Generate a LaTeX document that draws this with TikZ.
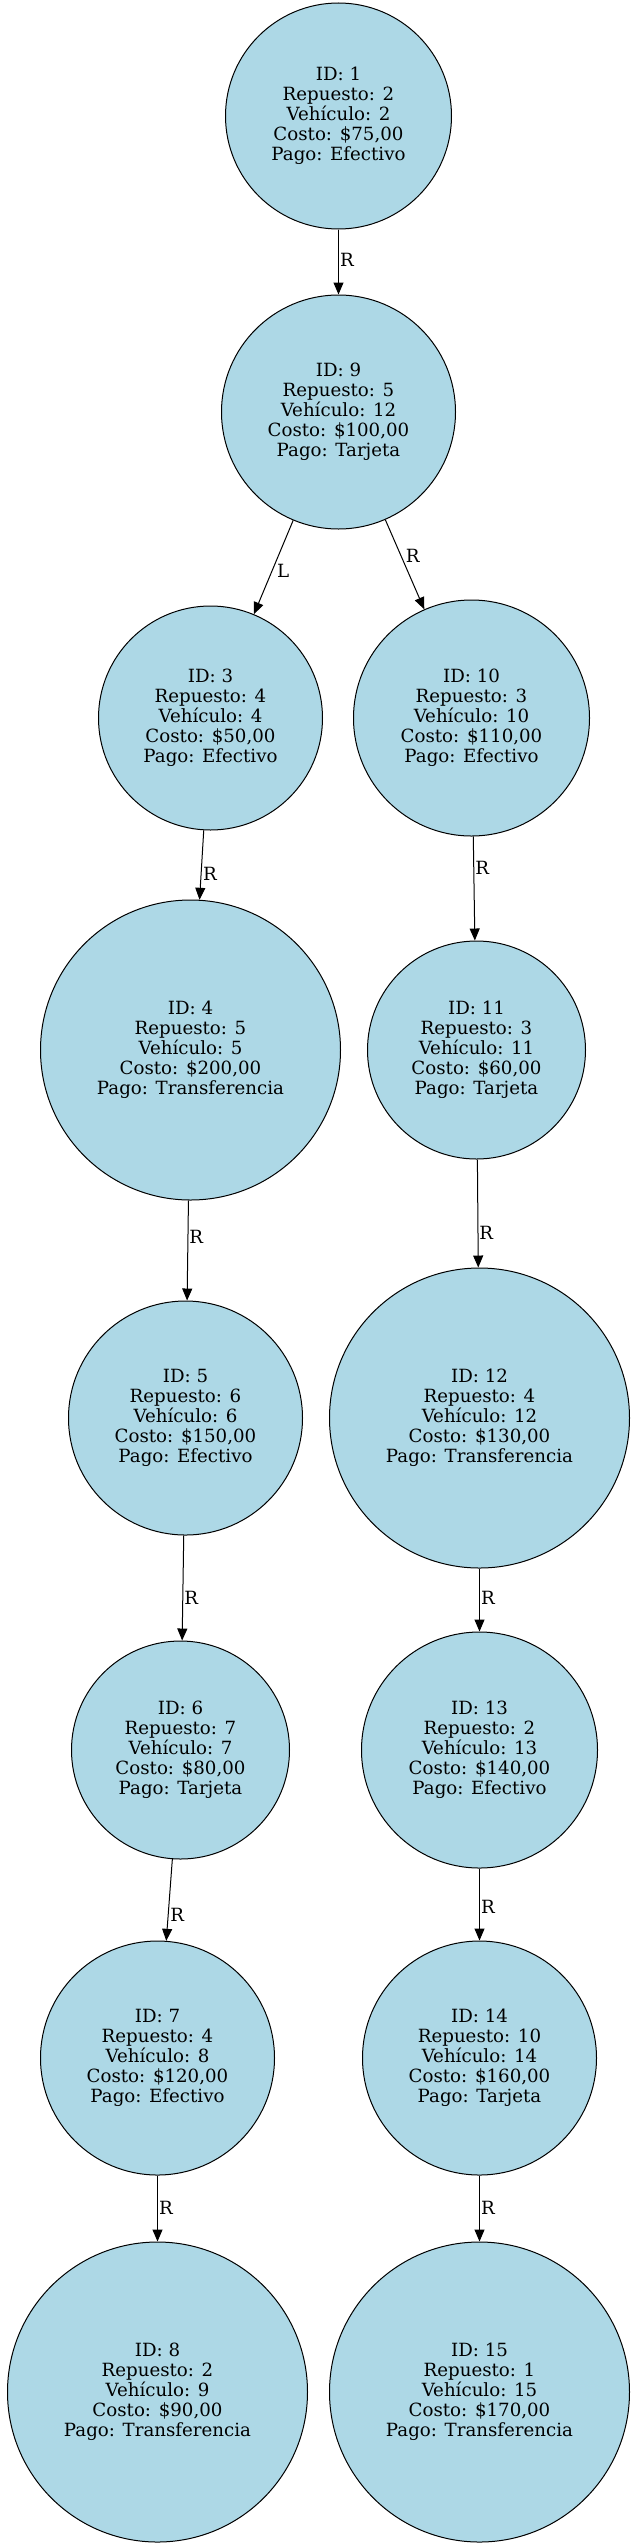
\documentclass[tikz,border=0pt]{standalone}
\usepackage{fontspec}
\setmainfont{DejaVu Serif}
\usetikzlibrary{positioning,arrows.meta}
\definecolor{celeste}{HTML}{ADD8E6}

\begin{document}
\begin{tikzpicture}[>={Triangle[length=12pt,width=10pt]},on grid,auto,line width=1pt,
		font=\fontsize{18.2}{20}\selectfont,
		rec/.style={circle,draw,fill=celeste,inner sep=0pt,align=center,minimum size=#1},
		etq/.style={inner sep=1pt}]
		\useasboundingbox (0,0) rectangle (630pt,-2548pt);
		\node[rec=226pt]  (S_1)   at (338.5pt,-116pt) {ID: 1\\Repuesto: 2\\Vehículo: 2\\Costo: \$75,00\\Pago: Efectivo};
		\node[rec=234pt]  (S_9)   [below=296pt of S_1] {ID: 9\\Repuesto: 5\\Vehículo: 12\\Costo: \$100,00\\Pago: Tarjeta};
		\node[rec=224pt]  (S_3)   [below left=306pt and 128pt of S_9] {ID: 3\\Repuesto: 4\\Vehículo: 4\\Costo: \$50,00\\Pago: Efectivo};
		\node[rec=236pt]  (S_10)  [below right=306pt and 133pt of S_9] {ID: 10\\Repuesto: 3\\Vehículo: 10\\Costo: \$110,00\\Pago: Efectivo};
		\node[rec=300pt]  (S_4)   [below left=332pt and 20pt of S_3] {ID: 4\\Repuesto: 5\\Vehículo: 5\\Costo: \$200,00\\Pago: Transferencia};
		\node[rec=218pt]  (S_11)  [below right=332pt and 5pt of S_10] {ID: 11\\Repuesto: 3\\Vehículo: 11\\Costo: \$60,00\\Pago: Tarjeta};
		\node[rec=234pt]  (S_5)   [below left=368pt and 5pt of S_4] {ID: 5\\Repuesto: 6\\Vehículo: 6\\Costo: \$150,00\\Pago: Efectivo};
		\node[rec=300pt]  (S_12)  [below right=368pt and 3pt of S_11] {ID: 12\\Repuesto: 4\\Vehículo: 12\\Costo: \$130,00\\Pago: Transferencia};
		\node[rec=218pt]  (S_6)   [below left=332pt and 5pt of S_5] {ID: 6\\Repuesto: 7\\Vehículo: 7\\Costo: \$80,00\\Pago: Tarjeta};
		\node[rec=236pt]  (S_13)  [below=332pt of S_12] {ID: 13\\Repuesto: 2\\Vehículo: 13\\Costo: \$140,00\\Pago: Efectivo};
		\node[rec=234pt]  (S_7)   [below left=308pt and 23pt of S_6] {ID: 7\\Repuesto: 4\\Vehículo: 8\\Costo: \$120,00\\Pago: Efectivo};
		\node[rec=234pt]  (S_14)  [below=308pt of S_13] {ID: 14\\Repuesto: 10\\Vehículo: 14\\Costo: \$160,00\\Pago: Tarjeta};
		\node[rec=300pt]  (S_8)   [below=334pt of S_7] {ID: 8\\Repuesto: 2\\Vehículo: 9\\Costo: \$90,00\\Pago: Transferencia};
		\node[rec=300pt]  (S_15)  [below=334pt of S_14] {ID: 15\\Repuesto: 1\\Vehículo: 15\\Costo: \$170,00\\Pago: Transferencia};
		
		\path[->]            (S_1) edge node[etq,pos=.46] {R} (S_9)
		(S_9) edge node[etq,pos=.45] {L} (S_3)
		edge node[etq,pos=.49] {R} (S_10)
		(S_3) edge node[etq,pos=.51] {R} (S_4)
		(S_10) edge node[etq,pos=.3] {R} (S_11)
		(S_4) edge node[etq,pos=.36] {R} (S_5)
		(S_11) edge node[etq,pos=.68] {R} (S_12)
		(S_5) edge node[etq,pos=.59] {R} (S_6)
		(S_12) edge node[etq,pos=.47] {R} (S_13)
		(S_6) edge node[etq,pos=.58] {R} (S_7)
		(S_13) edge node[etq,pos=.53] {R} (S_14)
		(S_7) edge node[etq,pos=.49] {R} (S_8)
		(S_14) edge node[etq,pos=.49] {R} (S_15);
	\end{tikzpicture}
\end{document}
